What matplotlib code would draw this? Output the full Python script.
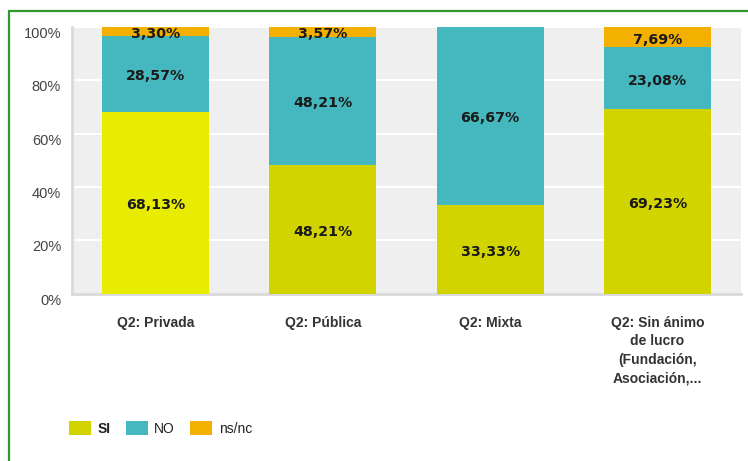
import matplotlib
matplotlib.use("Agg")
import matplotlib.pyplot as plt
import matplotlib.transforms as mtransforms
from matplotlib.patches import Rectangle, Patch
import numpy as np

# ----- DATA -----
categories = ["Q2: Privada", "Q2: Pública", "Q2: Mixta",
              "Q2: Sin ánimo\nde lucro\n(Fundación,\nAsociación,..."]
si = [68.13, 48.21, 33.33, 69.23]
no = [28.57, 48.21, 66.67, 23.08]
nsnc = [3.30, 3.57, 0.0, 7.69]
series_names = ["SI", "NO", "ns/nc"]
yticks = [0, 20, 40, 60, 80, 100]

# ----- STYLE -----
C_SI = "#d2d400"
C_SI_FIRST = "#e8ec00"
C_NO = "#45b7be"
C_NSNC = "#f3b000"
W, H = 748, 461

fig = plt.figure(figsize=(W / 100, H / 100), dpi=100)
ax = fig.add_axes([72 / W, 1 - 293.5 / H, (741 - 72) / W, (293.5 - 27) / H])
ax.set_facecolor("#efefef")

x = np.arange(len(categories))
si_colors = [C_SI_FIRST] + [C_SI] * (len(categories) - 1)
width = 0.64

ax.bar(x, si, width, color=si_colors, zorder=3)
ax.bar(x, no, width, bottom=si, color=C_NO, zorder=3)
bottom2 = [a + b for a, b in zip(si, no)]
ax.bar(x, nsnc, width, bottom=bottom2, color=C_NSNC, zorder=3)

# value labels (slightly below segment centre, like the original)
def fmt(v):
    return f"{v:.2f}".replace(".", ",") + "%"

lab_trans = ax.transData + mtransforms.ScaledTranslation(0, -2.5 / 100, fig.dpi_scale_trans)
for i in range(len(categories)):
    base = 0
    for vals in (si, no, nsnc):
        v = vals[i]
        if v > 0:
            ax.text(x[i], base + v / 2, fmt(v), ha="center", va="center",
                    fontsize=10.2, fontweight="bold", family="DejaVu Sans",
                    color="#1a1a1a", zorder=4, transform=lab_trans)
        base += v

ax.set_xlim(-0.5, len(categories) - 0.5)
ax.set_ylim(0, 100)
ax.set_yticks(yticks)
ax.set_yticklabels([])

# y labels sit a few pixels below their gridlines, as in the original
ytrans = mtransforms.blended_transform_factory(fig.transFigure, ax.transData) + \
    mtransforms.ScaledTranslation(0, -7 / 100, fig.dpi_scale_trans)
for t in yticks:
    ax.text(61 / W, t, f"{t}%", transform=ytrans, ha="right", va="center",
            family="Liberation Sans", fontsize=10.5, color="#444444")

ax.set_xticks(x)
ax.set_xticklabels(categories, family="Liberation Sans", fontweight="bold",
                   fontsize=10, color="#333333", linespacing=1.42, va="top")
ax.tick_params(axis="both", length=0)
ax.tick_params(axis="x", pad=16)

ax.grid(axis="y", color="white", linewidth=1.5, zorder=1)
ax.set_axisbelow(True)
for s in ("top", "right"):
    ax.spines[s].set_visible(False)
for s in ("left", "bottom"):
    ax.spines[s].set_color("#d9d9d9")
    ax.spines[s].set_linewidth(2)

# legend
handles = [Patch(facecolor=C_SI, edgecolor="none"),
           Patch(facecolor=C_NO, edgecolor="none"),
           Patch(facecolor=C_NSNC, edgecolor="none")]
leg = fig.legend(handles, series_names, loc="center left",
                 bbox_to_anchor=(69 / W, 1 - 428.5 / H), ncol=3, frameon=False,
                 prop={"family": "Liberation Sans", "size": 10},
                 handlelength=1.6, handleheight=1.1, handletextpad=0.45,
                 columnspacing=1.1, borderaxespad=0, borderpad=0)
for t in leg.get_texts():
    t.set_color("#222222")
leg.get_texts()[0].set_fontweight("bold")

# green frame around the chart
fig.patches.append(Rectangle((8.5 / W, -0.1), 1.2, 1 - 11 / H + 0.1,
                             transform=fig.transFigure, fill=False,
                             edgecolor="#2e9a2e", linewidth=1.6))

fig.savefig("out.png", dpi=100)
